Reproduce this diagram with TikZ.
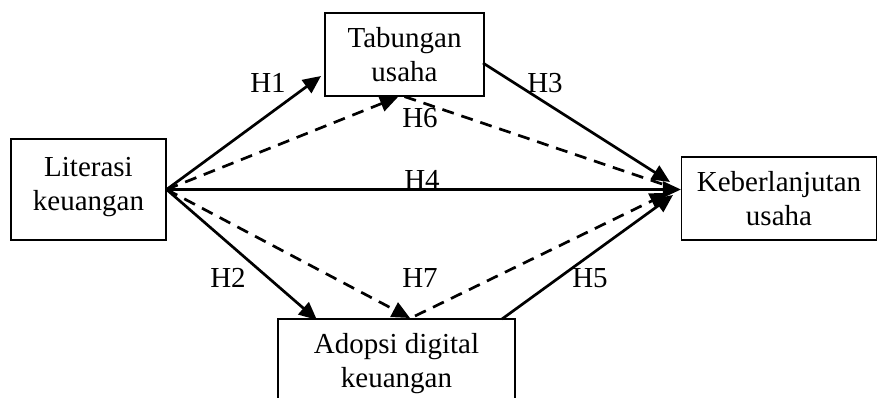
\documentclass[tikz,border=0pt]{standalone}
\usepackage{fontspec}
\setmainfont{Liberation Serif}
\usetikzlibrary{arrows.meta}

\tikzset{
  box/.style={draw, line width=1.2pt, align=center, inner sep=0pt,
    execute at begin node={\rule{0pt}{31pt}}, text depth=0pt},
  link/.style={line width=2.7pt, -{Triangle[length=18pt,width=16pt]}},
  dlink/.style={link, dash pattern=on 12pt off 8pt},
  plain/.style={line width=2.7pt},
  dplain/.style={plain, dash pattern=on 12pt off 8pt},
  hyp/.style={inner sep=0pt}
}

\begin{document}
\begin{tikzpicture}[x=1pt, y=-1pt, font=\fontsize{29}{34}\selectfont]
	\useasboundingbox (0,0) rectangle (888,398);
		\node[box, minimum width=155, minimum height=101, text depth=11pt] at (88.5,189.5) (lit){Literasi\\keuangan};
		\node[box, minimum width=159, minimum height=83]  at (404.5,54.5) (tab){Tabungan\\usaha};
		\node[box, minimum width=195, minimum height=83]  at (779,198.5)  (keb){Keberlanjutan\\usaha};
		\node[box, minimum width=237, minimum height=83]  at (396.5,360.5) (adp){Adopsi digital\\keuangan};
		% end points of the arrows
		\coordinate (t1) at (321,76);
		\coordinate (t6) at (398,97);
		\coordinate (t2) at (317,320);
		\coordinate (t7) at (410,318);
		\coordinate (s3) at (483,63);
		\coordinate (s7) at (415,316);
		\coordinate (s5) at (502,319);
		\coordinate (k3) at (670,182);
		\coordinate (k6) at (668,186);
		\coordinate (k7) at (668,193);
		\coordinate (k5) at (673,195);
		\draw[link]  (lit.east) -- (t1);
		\draw[dlink] (lit.east) -- (t6);
		\draw[dplain] (tab.south) -- (k6);
		\draw[link]  (s3) -- (k3);
		\draw[link]  (lit.east) -- (keb.west |- lit.east);
		\draw[link]  (lit.east) -- (t2);
		\draw[dlink] (lit.east) -- (t7);
		\draw[dlink] (s7) -- (k7);
		\draw[link]  (s5) -- (k5);
		\node[hyp] at (268,83)  (h1){H1};
		\node[hyp] at (545,83)  (h3){H3};
		\node[hyp] at (420,118) (h6){H6};
		\node[hyp] at (422,180) (h4){H4};
		\node[hyp] at (228,278) (h2){H2};
		\node[hyp] at (420,278) (h7){H7};
		\node[hyp] at (590,278) (h5){H5};
	\end{tikzpicture}
\end{document}
